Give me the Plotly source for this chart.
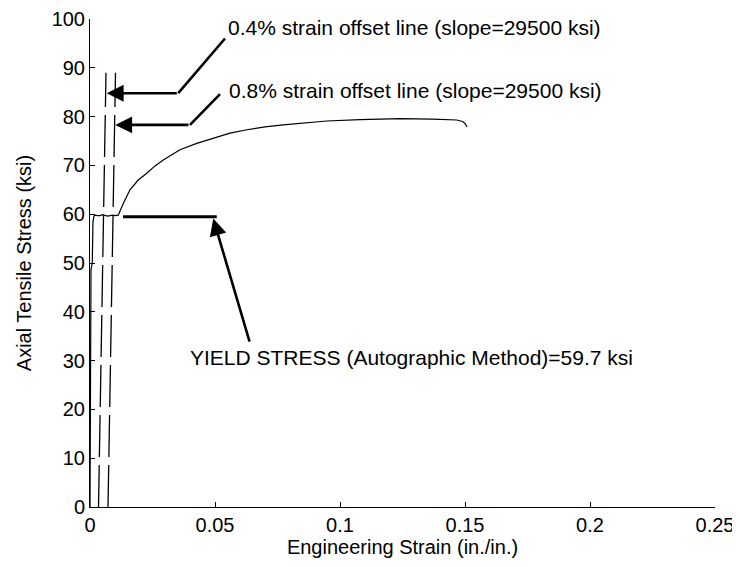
import plotly.graph_objects as go

# ---- data ----
strain = [0, 0.0001, 0.0002, 0.0003, 0.0004, 0.0004, 0.0009, 0.0011, 0.0012, 0.0016,
          0.002, 0.003, 0.004, 0.005, 0.006, 0.007, 0.008, 0.009, 0.010, 0.0113,
          0.0118, 0.0124, 0.0133, 0.016, 0.0193, 0.0227, 0.026, 0.0293, 0.036, 0.0427,
          0.0493, 0.056, 0.0627, 0.07, 0.0773, 0.085, 0.0947, 0.108, 0.124, 0.137,
          0.1467, 0.149, 0.150, 0.1508]
stress = [0, 10, 20, 30, 40, 48.6, 50, 55, 58.5, 59.6,
          59.8, 59.7, 59.7, 59.9, 59.8, 59.6, 59.7, 59.8, 59.7, 59.8,
          60.4, 61.2, 62.2, 65.0, 67.0, 68.4, 69.9, 71.1, 73.2, 74.5,
          75.6, 76.6, 77.3, 77.9, 78.3, 78.7, 79.1, 79.4, 79.6, 79.5,
          79.3, 79.0, 78.6, 77.9]

offset04_strain = [0.0034, 0.0064]
offset04_stress = [0, 89]
offset08_strain = [0.0072, 0.0102]
offset08_stress = [0, 89]

yield_stress = 59.7
x_ticks = [0, 0.05, 0.1, 0.15, 0.2, 0.25]
x_ticktext = ["0", "0.05", "0.1", "0.15", "0.2", "0.25"]
y_ticks = list(range(0, 101, 10))

label04 = "0.4% strain offset line (slope=29500 ksi)"
label08 = "0.8% strain offset line (slope=29500 ksi)"
label_yield = "YIELD STRESS (Autographic Method)=59.7 ksi"

FONT = "Liberation Sans, Arial, sans-serif"

fig = go.Figure()
fig.add_trace(go.Scatter(x=strain, y=stress, mode="lines",
                         line=dict(color="black", width=1.2), showlegend=False))
fig.add_trace(go.Scatter(x=offset04_strain, y=offset04_stress, mode="lines",
                         line=dict(color="black", width=1.3, dash="42px,8px"), showlegend=False))
fig.add_trace(go.Scatter(x=offset08_strain, y=offset08_stress, mode="lines",
                         line=dict(color="black", width=1.3, dash="42px,8px"), showlegend=False))

annos = []
# arrow 1 (0.4%)
annos.append(dict(x=0.0067, y=84.8, ax=0.0353, ay=84.8, xref="x", yref="y", axref="x", ayref="y",
                  text="", showarrow=True, arrowhead=2, arrowsize=1.3, arrowwidth=2.6, arrowcolor="black"))
# arrow 2 (0.8%)
annos.append(dict(x=0.0101, y=78.3, ax=0.040, ay=78.3, xref="x", yref="y", axref="x", ayref="y",
                  text="", showarrow=True, arrowhead=2, arrowsize=1.3, arrowwidth=2.6, arrowcolor="black"))
# arrow 3 (yield)
annos.append(dict(x=0.0493, y=yield_stress - 0.6, ax=0.064, ay=33.6, xref="x", yref="y", axref="x", ayref="y",
                  text="", showarrow=True, arrowhead=2, arrowsize=1.3, arrowwidth=2.6, arrowcolor="black"))
# labels
annos.append(dict(x=0.0545, y=98.3, xref="x", yref="y", text=label04, showarrow=False,
                  xanchor="left", yanchor="middle", font=dict(family=FONT, size=21, color="black")))
annos.append(dict(x=0.0548, y=85.3, xref="x", yref="y", text=label08, showarrow=False,
                  xanchor="left", yanchor="middle", font=dict(family=FONT, size=21, color="black")))
annos.append(dict(x=0.0393, y=30.6, xref="x", yref="y", text=label_yield, showarrow=False,
                  xanchor="left", yanchor="middle", font=dict(family=FONT, size=21, color="black")))

shapes = [
    dict(type="line", xref="x", yref="y", x0=0.0353, y0=84.8, x1=0.054, y1=96.0,
         line=dict(color="black", width=2.6)),
    dict(type="line", xref="x", yref="y", x0=0.040, y0=78.3, x1=0.052, y1=84.6,
         line=dict(color="black", width=2.6)),
    dict(type="line", xref="x", yref="y", x0=0.0132, y0=yield_stress - 0.2, x1=0.0507, y1=yield_stress - 0.2,
         line=dict(color="black", width=3)),
]

# page body has an 8px margin, so the figure is sized to fit the 740x567 window exactly
fig.update_layout(
    width=732, height=559,
    margin=dict(l=82, r=25, t=11, b=60, autoexpand=False),
    paper_bgcolor="white", plot_bgcolor="white",
    font=dict(family=FONT, size=20, color="black"),
    annotations=annos, shapes=shapes,
    xaxis=dict(range=[0, 0.25], tickvals=x_ticks, ticktext=x_ticktext, automargin=False,
               showline=True, linecolor="black", linewidth=1, ticks="inside", ticklen=5,
               tickcolor="black", showgrid=False, zeroline=False, mirror=False,
               title=dict(text="Engineering Strain (in./in.)", standoff=4,
                          font=dict(family=FONT, size=20))),
    yaxis=dict(range=[0, 100], tickvals=y_ticks, automargin=False,
               showline=True, linecolor="black", linewidth=1, ticks="inside", ticklen=5,
               tickcolor="black", showgrid=False, zeroline=False, mirror=False,
               title=dict(text="Axial Tensile Stress (ksi)", standoff=14,
                          font=dict(family=FONT, size=20))),
)

fig.write_html("out.html")
